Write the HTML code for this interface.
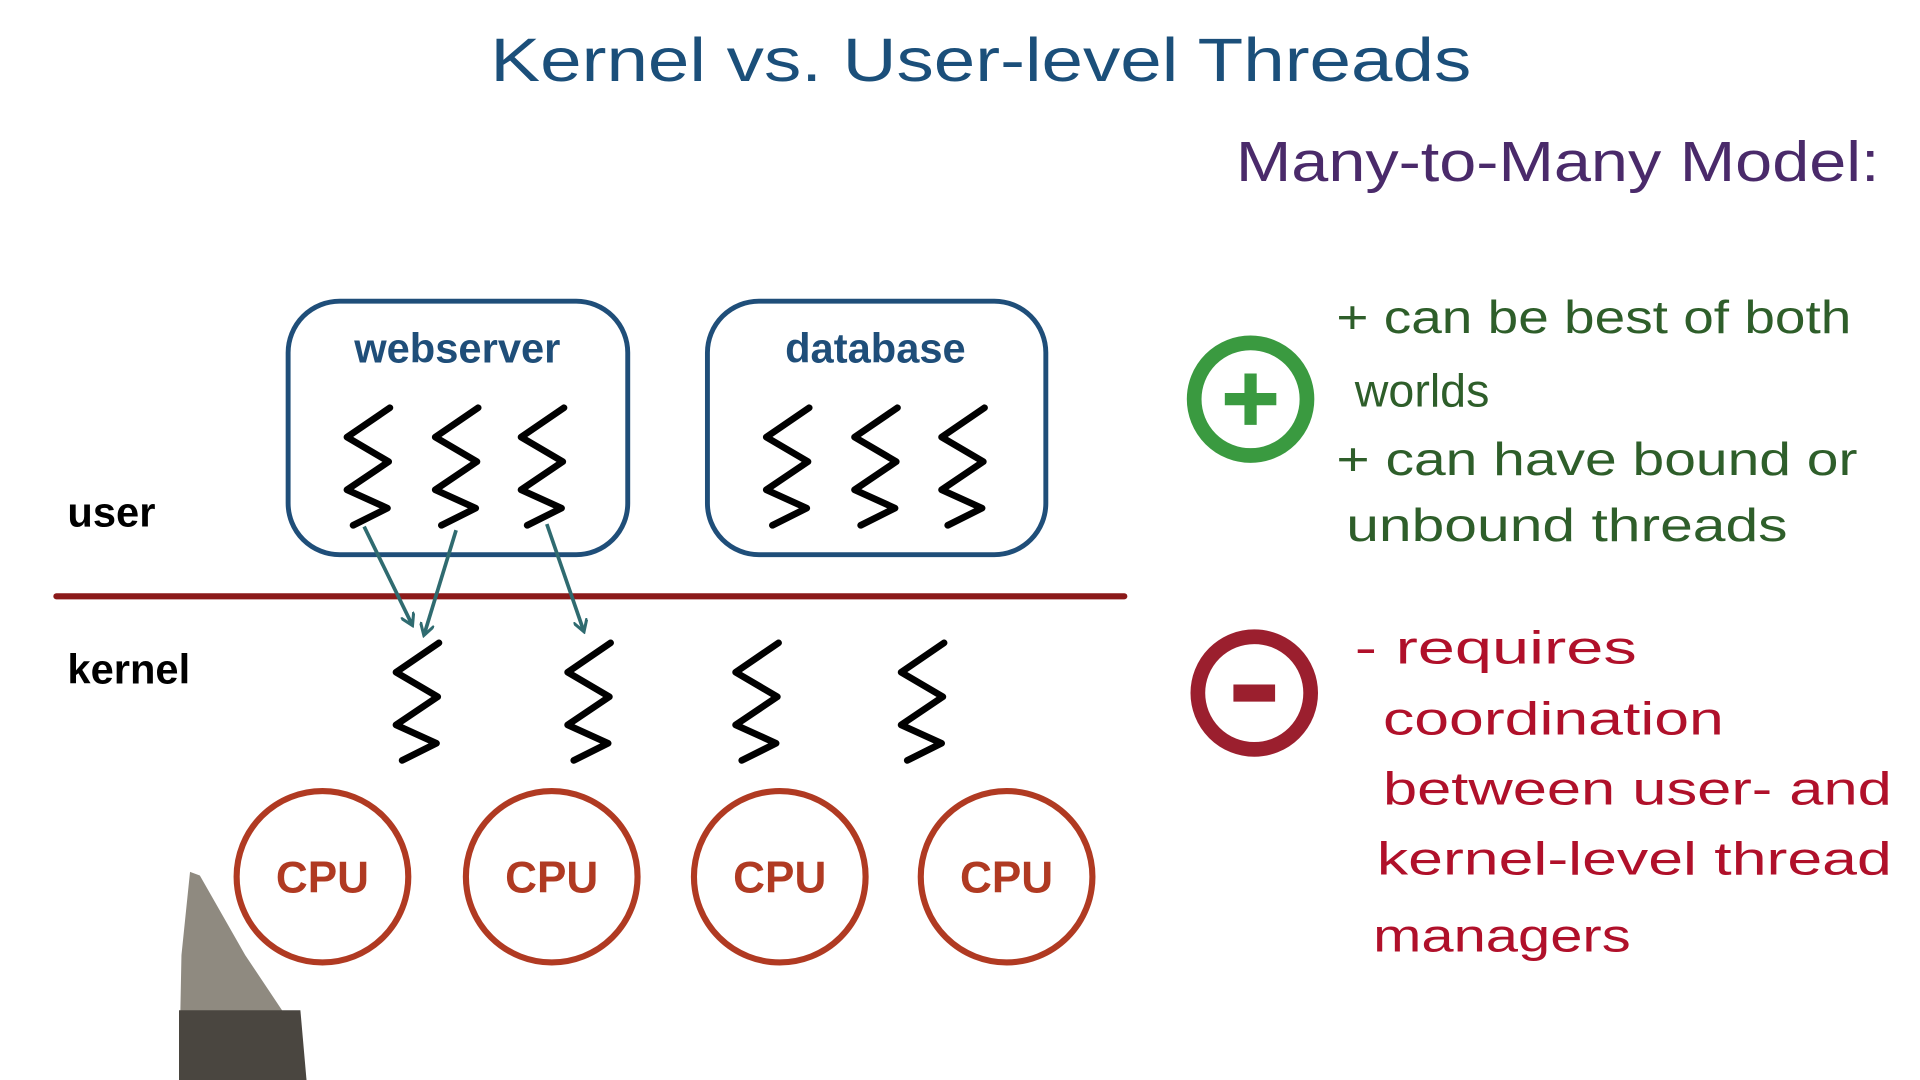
<!DOCTYPE html>
<html><head><meta charset="utf-8"><style>html,body{margin:0;padding:0;background:#fff;overflow:hidden}svg{display:block}</style></head>
<body>
<svg width="1920" height="1080" viewBox="0 0 1566 882" preserveAspectRatio="none" xmlns="http://www.w3.org/2000/svg">
<defs>
<path id="sq" d="M18,0 L-17,24 L17,44 L-17,67 L16,82 L-12,96" fill="none" stroke="#000" stroke-width="5.5" stroke-linejoin="round" stroke-linecap="round"/>
<marker id="ah" markerWidth="12" markerHeight="12" refX="9" refY="6" orient="auto" markerUnits="userSpaceOnUse" viewBox="0 0 12 12"><path d="M0,0 L10,6 L0,12" fill="none" stroke="#2f6b70" stroke-width="2.5"/></marker>
</defs>
<rect width="1566" height="882" fill="#fff"/>
<g font-family="Liberation Sans, sans-serif">
<text x="400" y="66" font-size="50" fill="#1b4f7a" textLength="800" lengthAdjust="spacingAndGlyphs">Kernel  vs. User-level  Threads</text>
<text x="1008" y="148" font-size="46" fill="#4a2a6a" textLength="525" lengthAdjust="spacingAndGlyphs">Many-to-Many Model:</text>

<rect x="235" y="246" width="277" height="207" rx="42" fill="none" stroke="#1f4e79" stroke-width="4"/>
<rect x="577" y="246" width="276" height="207" rx="42" fill="none" stroke="#1f4e79" stroke-width="4"/>
<text x="373" y="296" font-size="34" font-weight="bold" fill="#1f4e79" text-anchor="middle">webserver</text>
<text x="714" y="296" font-size="34" font-weight="bold" fill="#1f4e79" text-anchor="middle">database</text>

<use href="#sq" x="300" y="333"/><use href="#sq" x="372" y="333"/><use href="#sq" x="442" y="333"/>
<use href="#sq" x="642" y="333"/><use href="#sq" x="714" y="333"/><use href="#sq" x="785" y="333"/>

<text x="55" y="430" font-size="34" font-weight="bold" fill="#000">user</text>
<text x="55" y="558" font-size="34" font-weight="bold" fill="#000">kernel</text>
<line x1="46" y1="487" x2="917" y2="487" stroke="#8b1a1a" stroke-width="5" stroke-linecap="round"/>

<line x1="297" y1="430" x2="336" y2="510" stroke="#2f6b70" stroke-width="3" marker-end="url(#ah)"/>
<line x1="372" y1="433" x2="346" y2="518" stroke="#2f6b70" stroke-width="3" marker-end="url(#ah)"/>
<line x1="446" y1="428" x2="476" y2="515" stroke="#2f6b70" stroke-width="3" marker-end="url(#ah)"/>

<use href="#sq" x="340" y="525"/><use href="#sq" x="480" y="525"/><use href="#sq" x="617" y="525"/><use href="#sq" x="752" y="525"/>

<g fill="none" stroke="#b03a22" stroke-width="5">
<circle cx="263" cy="716" r="70"/><circle cx="450" cy="716" r="70"/><circle cx="636" cy="716" r="70"/><circle cx="821" cy="716" r="70"/>
</g>
<g font-size="36" font-weight="bold" fill="#b03a22" text-anchor="middle">
<text x="263" y="729">CPU</text><text x="450" y="729">CPU</text><text x="636" y="729">CPU</text><text x="821" y="729">CPU</text>
</g>

<circle cx="1020" cy="326" r="46" fill="none" stroke="#3a9a40" stroke-width="12"/>
<path d="M1020,305 V347 M999,326 H1041" stroke="#3a9a40" stroke-width="10"/>
<circle cx="1023" cy="566" r="46" fill="none" stroke="#9b1f2e" stroke-width="12"/>
<rect x="1006" y="559" width="34" height="14" fill="#9b1f2e"/>

<g font-size="38" fill="#2e5e2a">
<text x="1090" y="272" textLength="420" lengthAdjust="spacingAndGlyphs">+ can  be best of  both</text>
<text x="1105" y="332">worlds</text>
<text x="1090" y="388" textLength="425" lengthAdjust="spacingAndGlyphs">+ can have  bound or</text>
<text x="1098" y="442" textLength="360" lengthAdjust="spacingAndGlyphs">unbound  threads</text>
</g>
<g font-size="38" fill="#b0102a">
<text x="1105" y="542" textLength="230" lengthAdjust="spacingAndGlyphs">- requires</text>
<text x="1128" y="600" textLength="278" lengthAdjust="spacingAndGlyphs">coordination</text>
<text x="1128" y="657" textLength="415" lengthAdjust="spacingAndGlyphs">between  user- and</text>
<text x="1123" y="714" textLength="420" lengthAdjust="spacingAndGlyphs">kernel-level thread</text>
<text x="1120" y="777" textLength="210" lengthAdjust="spacingAndGlyphs">managers</text>
</g>

<path d="M155,712 L163,715 L200,780 L240,840 L250,882 L146,882 L148,780 Z" fill="#8f8a80"/>
<path d="M146,825 L245,825 L250,882 L146,882 Z" fill="#4a4640"/>
</g>
</svg>
</body></html>
